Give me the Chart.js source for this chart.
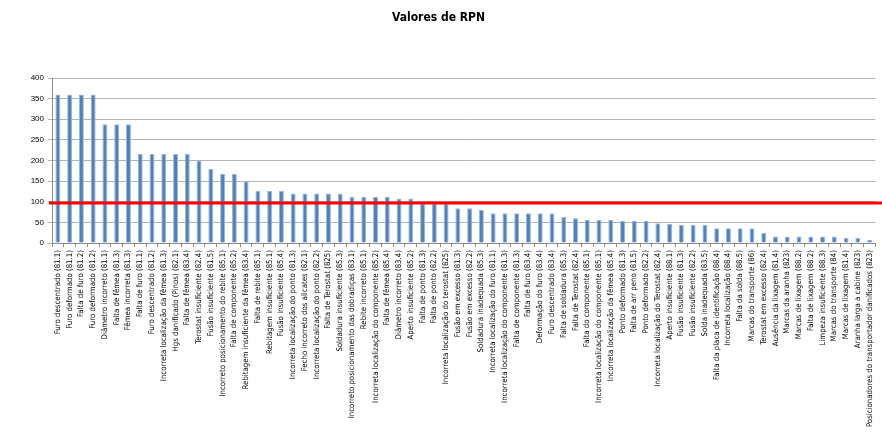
<!DOCTYPE html>
<html>
<head>
<meta charset="utf-8">
<script src="https://cdn.jsdelivr.net/npm/chart.js@4.4.1/dist/chart.umd.min.js"></script>
<style>
  html, body { margin: 0; padding: 0; background: #ffffff; }
  #wrap { width: 882px; height: 442px; position: relative; }
</style>
</head>
<body>
<div id="wrap"><canvas id="c" width="882" height="442"></canvas></div>
<script>
const chartTitle = "Valores de RPN";

const categories = [
  "Furo descentrado (81.1)", "Furo deformado (81.1)", "Falta de furo (81.2)", "Furo deformado (81.2)",
  "Diâmetro incorreto (81.1)", "Falta de fêmea (81.3)", "Fêmea incorreta (81.3)", "Falta de furo (81.1)",
  "Furo descentrado (81.2)", "Incorreta localização da fêmea (81.3)", "Hgs danificado (Pinos) (82.1)",
  "Falta de fêmea (83.4)", "Terostat insuficiente (82.4)", "Fusão insuficiente (81.5)",
  "Incorreto posicionamento do rebite (85.1)", "Falta de componente (85.2)",
  "Rebitagem insuficiente da fêmea (83.4)", "Falta de rebite (85.1)", "Rebitagem insuficiente (85.1)",
  "Fusão insuficiente (85.4)", "Incorreta localização do ponto (81.3)", "Fecho incorreto dos alicates (82.1)",
  "Incorreta localização do ponto (82.2)", "Falta de Terostat (825)", "Soldadura insuficiente (85.3)",
  "Incorreto posicionamento das dobradiças (83.1)", "Rebite incorreto (85.1)",
  "Incorreta localização do componente (85.2)", "Falta de fêmea (85.4)", "Diâmetro incorreto (83.4)",
  "Aperto insuficiente (85.2)", "Falta de ponto (81.3)", "Falta de ponto (82.2)",
  "Incorreta localização do terostat (825)", "Fusão em excesso (81.3)", "Fusão em excesso (82.2)",
  "Soldadura inadequada (85.3)", "Incorreta localização do furo (81.1)",
  "Incorreta localização do componente (81.3)", "Falta de componente (81.3)", "Falta de furo (83.4)",
  "Deformação do furo (83.4)", "Furo descentrado (83.4)", "Falta de soldadura (85.3)",
  "Falta de Terostat (82.4)", "Falta do componente (85.1)", "Incorreta localização do componente (85.1)",
  "Incorreta localização da fêmea (85.4)", "Ponto deformado (81.3)", "Falta de arr peno (81.5)",
  "Ponto deformado (82.2)", "Incorreta localização do Terostat (82.4)", "Aperto insuficiente (88.1)",
  "Fusão insuficiente (81.3)", "Fusão insuficiente (82.2)", "Solda inadequada (83.5)",
  "Falta da placa de identificação (88.4)", "Incorreta localização (88.4)", "Falta da solda (88.5)",
  "Marcas do transporte (86)", "Terostat em excesso (82.4)", "Ausência da lixagem (81.4)",
  "Marcas da aranha (823)", "Marcas de lixagem (88.2)", "Falta de lixagem (88.2)",
  "Limpeza insuficiente (88.3)", "Marcas do transporte (84)", "Marcas de lixagem (81.4)",
  "Aranha larga a cabine (823)", "Posicionadores do transportador danificados (823)"
];

const rpnValues = [
  360, 360, 360, 360, 288, 288, 288, 216, 216, 216,
  216, 216, 200, 180, 168, 168, 150, 126, 126, 126,
  120, 120, 120, 120, 120, 112, 112, 112, 112, 108,
  108, 96, 96, 96, 84, 84, 80, 72, 72, 72,
  72, 72, 72, 63, 60, 56, 56, 56, 54, 54,
  54, 48, 46, 44, 44, 44, 36, 36, 36, 36,
  24, 16, 16, 16, 16, 16, 16, 12, 12, 8
];

const yTicks = [0, 50, 100, 150, 200, 250, 300, 350, 400];
const thresholdValue = [97];

const thresholdPlugin = {
  id: 'threshold',
  afterDatasetsDraw(chart) {
    const y = chart.scales.y.getPixelForValue(thresholdValue[0]);
    const ctx = chart.ctx;
    ctx.save();
    ctx.strokeStyle = '#ff0000';
    ctx.lineWidth = 3;
    ctx.beginPath();
    ctx.moveTo(chart.chartArea.left - 3, y);
    ctx.lineTo(chart.width, y);
    ctx.stroke();
    ctx.restore();
  }
};

const labelFont = "'Liberation Sans Narrow', 'DejaVu Sans Condensed', 'Liberation Sans', sans-serif";

new Chart(document.getElementById('c'), {
  type: 'bar',
  data: {
    labels: categories,
    datasets: [{
      data: rpnValues,
      backgroundColor: '#4F81BD',
      borderColor: '#9ab7db',
      borderWidth: { left: 1, right: 1, top: 1, bottom: 0 },
      barPercentage: 0.42,
      categoryPercentage: 1.0
    }]
  },
  options: {
    responsive: false,
    animation: false,
    devicePixelRatio: 1,
    layout: { padding: { left: 0, right: 5, top: 0, bottom: 0 } },
    plugins: {
      legend: { display: false },
      tooltip: { enabled: false },
      title: {
        display: true,
        text: chartTitle,
        color: '#000000',
        font: { family: labelFont, size: 12, weight: 'bold' },
        padding: { top: 11, bottom: 52.6 }
      }
    },
    scales: {
      x: {
        offset: true,
        grid: {
          offset: true,
          drawOnChartArea: false,
          drawTicks: true,
          tickLength: 4,
          color: '#8c8c8c'
        },
        border: { color: '#8c8c8c', width: 1 },
        ticks: {
          autoSkip: false,
          minRotation: 90,
          maxRotation: 90,
          padding: 3,
          color: '#000000',
          font: { family: labelFont, size: 7.8 }
        },
        afterFit(scale) { scale.height = 199; }
      },
      y: {
        min: 0,
        max: 400,
        afterBuildTicks(scale) { scale.ticks = yTicks.map(v => ({ value: v })); },
        grid: {
          color: '#b3b3b3',
          lineWidth: 1,
          tickLength: 4,
          drawTicks: true
        },
        border: { color: '#8c8c8c', width: 1 },
        ticks: {
          color: '#000000',
          padding: 4,
          font: { family: "'Liberation Sans', sans-serif", size: 8 }
        },
        afterFit(scale) { scale.width = 52; }
      }
    }
  },
  plugins: [thresholdPlugin]
});
</script>
</body>
</html>
